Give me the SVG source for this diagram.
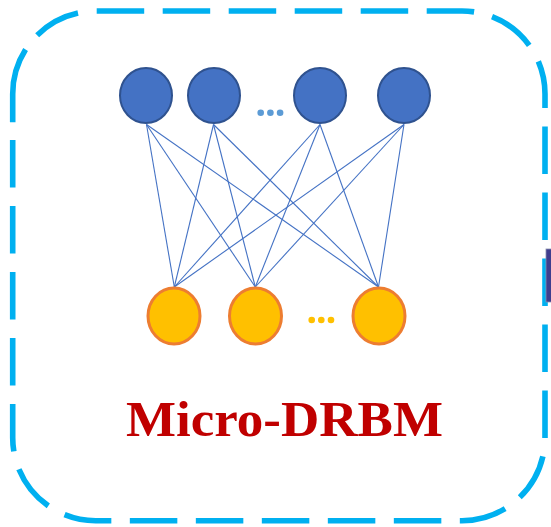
<svg xmlns="http://www.w3.org/2000/svg" width="551" height="527" viewBox="0 0 551 527">
  <style>
    .frame { fill: none; stroke: #00B0F0; stroke-width: 5.6; }
    .frame-main { stroke-dasharray: 47.5 18.5; }
    .frame-join { stroke-dasharray: 75 18.5 47 19; }
    .hidden-unit { fill: #4472C4; stroke: #2F528F; stroke-width: 2; }
    .visible-unit { fill: #FFC000; stroke: #ED7D31; stroke-width: 3; }
    .edge { stroke: #4472C4; stroke-width: 1.1; fill: none; }
    .title { font-family: "Liberation Serif", "Times New Roman", serif; font-weight: bold; font-size: 51px; fill: #C00000; }
  </style>
  <defs>
    <filter id="soft" x="-50%" y="-50%" width="200%" height="200%">
      <feGaussianBlur stdDeviation="0.6"/>
    </filter>
  </defs>

  <rect width="551" height="527" fill="#FFFFFF"/>

  <!-- dashed rounded frame: main run plus the closing run at the top-left corner -->
  <g id="frame">
    <path class="frame frame-main" d="M96.7,11 H462 A83,83 0 0 1 545,94 V437.7 A83,83 0 0 1 462,520.7 H95.7 A83,83 0 0 1 12.7,437.7 V122.2"/>
    <path class="frame frame-join" d="M12.7,122.2 V94 A83,83 0 0 1 95.7,11 H96.7"/>
  </g>

  <!-- partly visible element at the right border -->
  <rect x="546" y="249" width="6" height="53" fill="#3F3D8E" stroke="#8A8FB0" stroke-width="0.8"/>

  <!-- full connections between layers -->
  <g id="connectors">
    <line class="edge" x1="146.5" y1="124.5" x2="174.3" y2="287"/>
    <line class="edge" x1="146.5" y1="124.5" x2="255.3" y2="287"/>
    <line class="edge" x1="146.5" y1="124.5" x2="378.5" y2="287"/>
    <line class="edge" x1="213.5" y1="124.5" x2="174.3" y2="287"/>
    <line class="edge" x1="213.5" y1="124.5" x2="255.3" y2="287"/>
    <line class="edge" x1="213.5" y1="124.5" x2="378.5" y2="287"/>
    <line class="edge" x1="320" y1="124.5" x2="174.3" y2="287"/>
    <line class="edge" x1="320" y1="124.5" x2="255.3" y2="287"/>
    <line class="edge" x1="320" y1="124.5" x2="378.5" y2="287"/>
    <line class="edge" x1="404" y1="124.5" x2="174.3" y2="287"/>
    <line class="edge" x1="404" y1="124.5" x2="255.3" y2="287"/>
    <line class="edge" x1="404" y1="124.5" x2="378.5" y2="287"/>
  </g>

  <!-- hidden layer -->
  <g id="h1"><ellipse class="hidden-unit" cx="146" cy="95.5" rx="26" ry="27.5"/></g>
  <g id="h2"><ellipse class="hidden-unit" cx="214" cy="95.5" rx="26" ry="27.5"/></g>
  <g id="h3"><ellipse class="hidden-unit" cx="320" cy="95.5" rx="26" ry="27.5"/></g>
  <g id="h4"><ellipse class="hidden-unit" cx="404" cy="95.5" rx="26" ry="27.5"/></g>
  <g id="hidden-ellipsis" fill="#5B9BD5" filter="url(#soft)">
    <circle cx="260.7" cy="112.7" r="3.3"/>
    <circle cx="270.4" cy="112.7" r="3.3"/>
    <circle cx="280.1" cy="112.7" r="3.3"/>
  </g>

  <!-- visible layer -->
  <g id="v1"><ellipse class="visible-unit" cx="174" cy="316" rx="26" ry="28"/></g>
  <g id="v2"><ellipse class="visible-unit" cx="255.5" cy="316" rx="26" ry="28"/></g>
  <g id="v3"><ellipse class="visible-unit" cx="379" cy="316" rx="26" ry="28"/></g>
  <g id="visible-ellipsis" fill="#FFC000" filter="url(#soft)">
    <circle cx="311.7" cy="320" r="3.3"/>
    <circle cx="321.3" cy="320" r="3.3"/>
    <circle cx="331" cy="320" r="3.3"/>
  </g>

  <text class="title" x="126" y="436" textLength="317" lengthAdjust="spacingAndGlyphs">Micro-DRBM</text>
</svg>
